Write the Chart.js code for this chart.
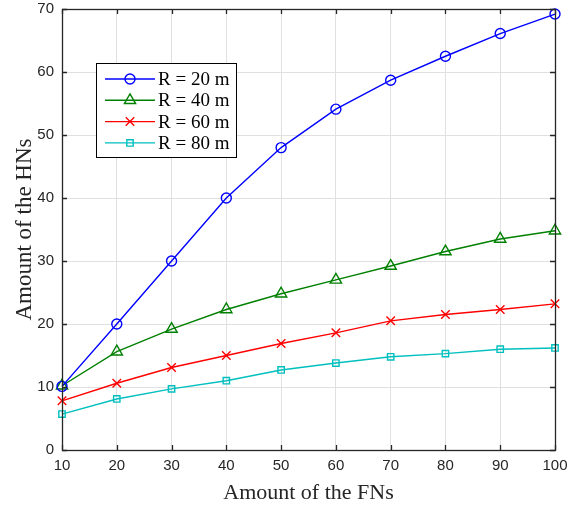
<!DOCTYPE html>
<html><head><meta charset="utf-8">
<script src="https://cdn.jsdelivr.net/npm/chart.js@4.4.0/dist/chart.umd.min.js"></script>
<style>html,body{margin:0;padding:0;background:#fff}#wrap{width:585px;height:506px}</style>
</head><body><div id="wrap"><canvas id="c" width="585" height="506"></canvas></div>
<script>
const fnCounts = [10, 20, 30, 40, 50, 60, 70, 80, 90, 100];
const hnR20 = [10.1, 20.0, 30.0, 40.0, 48.0, 54.1, 58.7, 62.5, 66.1, 69.2];
const hnR40 = [10.2, 15.6, 19.2, 22.3, 24.8, 27.0, 29.2, 31.5, 33.5, 34.8];
const hnR60 = [7.8, 10.6, 13.1, 15.0, 16.9, 18.6, 20.5, 21.5, 22.3, 23.2];
const hnR80 = [5.7, 8.1, 9.7, 11.0, 12.7, 13.8, 14.8, 15.3, 16.0, 16.2];
const seriesLabels = ['R = 20 m', 'R = 40 m', 'R = 60 m', 'R = 80 m'];
const xTicks = [10, 20, 30, 40, 50, 60, 70, 80, 90, 100];
const yTicks = [0, 10, 20, 30, 40, 50, 60, 70];

const colors = ['#0000ff', '#008000', '#ff0000', '#00bfbf'];
const styles = ['circle', 'triangle', 'crossRot', 'rect'];
const radii = [5, 6.5, 6, 4.5];
const allSeries = [hnR20, hnR40, hnR60, hnR80];

const datasets = allSeries.map((s, i) => ({
  label: seriesLabels[i],
  data: fnCounts.map((x, j) => ({x: x, y: s[j]})),
  borderColor: colors[i],
  backgroundColor: 'rgba(0,0,0,0)',
  pointBorderColor: colors[i],
  pointBackgroundColor: 'rgba(0,0,0,0)',
  pointStyle: styles[i],
  pointRadius: radii[i],
  pointBorderWidth: 1.4,
  borderWidth: 1.4,
  tension: 0,
  clip: false
}));

const framePlugin = {
  id: 'frame',
  afterDatasetsDraw(chart) {
    const {ctx, chartArea: a, scales} = chart;
    ctx.save();
    ctx.strokeStyle = '#262626';
    ctx.lineWidth = 1.3;
    ctx.strokeRect(a.left + 0.5, a.top + 0.5, a.right - a.left, a.bottom - a.top);
    const tl = 5;
    ctx.beginPath();
    xTicks.forEach(v => {
      const x = Math.round(scales.x.getPixelForValue(v)) + 0.5;
      ctx.moveTo(x, a.bottom); ctx.lineTo(x, a.bottom - tl);
      ctx.moveTo(x, a.top); ctx.lineTo(x, a.top + tl);
    });
    yTicks.forEach(v => {
      const y = Math.round(scales.y.getPixelForValue(v)) + 0.5;
      ctx.moveTo(a.left, y); ctx.lineTo(a.left + tl, y);
      ctx.moveTo(a.right, y); ctx.lineTo(a.right - tl, y);
    });
    ctx.stroke();

    // legend box inside chart area
    const lx = a.left + 34, ly = a.top + 54, lw = 140, lh = 94;
    ctx.fillStyle = '#fff';
    ctx.fillRect(lx, ly, lw, lh);
    ctx.strokeStyle = '#000';
    ctx.lineWidth = 1;
    ctx.strokeRect(lx + 0.5, ly + 0.5, lw, lh);
    ctx.font = '19px "Liberation Serif", "Times New Roman", serif';
    ctx.textBaseline = 'middle';
    ctx.textAlign = 'left';
    seriesLabels.forEach((lab, i) => {
      const ry = ly + 16 + i * 21.3;
      ctx.strokeStyle = colors[i];
      ctx.lineWidth = 1.4;
      ctx.beginPath();
      ctx.moveTo(lx + 9, ry); ctx.lineTo(lx + 59, ry);
      ctx.stroke();
      ctx.fillStyle = 'rgba(0,0,0,0)';
      ctx.strokeStyle = colors[i];
      Chart.helpers.drawPoint(ctx, {pointStyle: styles[i], radius: radii[i], borderWidth: 1.4, rotation: 0}, lx + 34, ry);
      ctx.fillStyle = '#000';
      ctx.fillText(lab, lx + 62, ry + 1);
    });
    ctx.restore();
  }
};

new Chart(document.getElementById('c'), {
  type: 'line',
  data: {datasets},
  plugins: [framePlugin],
  options: {
    responsive: false,
    animation: false,
    devicePixelRatio: 1,
    layout: {padding: {top: 9, right: 30, left: 11, bottom: 0}},
    plugins: {legend: {display: false}, tooltip: {enabled: false}},
    scales: {
      x: {
        type: 'linear', min: 10, max: 100,
        afterBuildTicks: s => { s.ticks = xTicks.map(v => ({value: v})); },
        afterFit: s => { s.height = 56; s.paddingLeft = 0; s.paddingRight = 0; },
        grid: {color: '#e0e0e0', lineWidth: 1, drawTicks: false},
        border: {display: false},
        ticks: {color: '#262626', font: {family: '"Liberation Sans", Arial, sans-serif', size: 15}, padding: 7, maxRotation: 0},
        title: {display: true, text: 'Amount of the FNs', color: '#262626', font: {family: '"Liberation Serif", "Times New Roman", serif', size: 22}, padding: {top: 0, bottom: 0}}
      },
      y: {
        type: 'linear', min: 0, max: 70,
        afterBuildTicks: s => { s.ticks = yTicks.map(v => ({value: v})); },
        afterFit: s => { s.width = 51; s.paddingTop = 0; s.paddingBottom = 0; },
        grid: {color: '#e0e0e0', lineWidth: 1, drawTicks: false},
        border: {display: false},
        ticks: {color: '#262626', font: {family: '"Liberation Sans", Arial, sans-serif', size: 15}, padding: 8},
        title: {display: true, text: 'Amount of the HNs', color: '#262626', font: {family: '"Liberation Serif", "Times New Roman", serif', size: 23}, padding: {top: 0, bottom: 3}}
      }
    }
  }
});
</script></body></html>
